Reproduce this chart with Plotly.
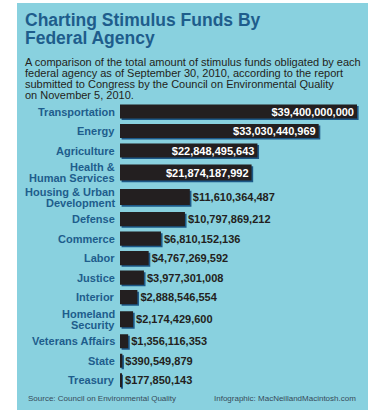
import plotly.graph_objects as go

# ---------------- data ----------------
agencies = ["Transportation", "Energy", "Agriculture", "Health &<br>Human Services",
            "Housing & Urban<br>Development", "Defense", "Commerce", "Labor", "Justice",
            "Interior", "Homeland<br>Security", "Veterans Affairs", "State", "Treasury"]
funds = [39400000000, 33030440969, 22848495643, 21874187992, 11610364487, 10797869212,
         6810152136, 4767269592, 3977301008, 2888546554, 2174429600, 1356116353,
         390549879, 177850143]
value_labels = ["$" + f"{v:,}" for v in funds]

title_lines = ["Charting Stimulus Funds By", "Federal Agency"]
subtitle_lines = ["A comparison of the total amount of stimulus funds obligated by each",
                  "federal agency as of September 30, 2010, according to the report",
                  "submitted to Congress by the Council on Environmental Quality",
                  "on November 5, 2010."]
source_text = "Source: Council on Environmental Quality"
credit_text = "Infographic: MacNeillandMacintosh.com"

# ---------------- styling ----------------
W, H = 380, 410
FONT = "Liberation Sans, Arial, Helvetica, sans-serif"
BG = "rgb(137,209,223)"
BLUE = "rgb(30,93,140)"
BAR = "rgb(35,31,32)"
SHADOW = "rgb(28,88,135)"
UNIT = 19.5          # px per row unit
FIRST_ROW_PX = 111.5
EXTRA = 0.13

extra = [a.count("<br>") for a in agencies]
pos = [0.0]
for i in range(1, len(agencies)):
    pos.append(pos[-1] + 1 + EXTRA * (extra[i - 1] + extra[i]))
widths = [0.72 + 0.1 * e for e in extra]

pad = 0.6
top_px = FIRST_ROW_PX - pad * UNIT
bot_px = top_px + (pos[-1] + 2 * pad) * UNIT
ydom = [1 - bot_px / H, 1 - top_px / H]
yr = [pos[-1] + pad, -pad]

x0_px, x1_px = 120, 368
xmax = max(funds) * (x1_px - x0_px) / 237.0
xdom = [x0_px / W, x1_px / W]

sh_px = 1.6
dx = xmax * sh_px / (x1_px - x0_px)
dy = sh_px / UNIT

positions = ["inside" if v >= 0.5 * max(funds) else "outside" for v in funds]

fig = go.Figure()
# shadow bars (base axes, shifted)
fig.add_trace(go.Bar(x=funds, y=pos, width=widths, orientation="h",
                     marker=dict(color=SHADOW, line=dict(width=0)),
                     xaxis="x", yaxis="y", hoverinfo="skip", showlegend=False))
# main bars
fig.add_trace(go.Bar(x=funds, y=pos, width=widths, orientation="h",
                     marker=dict(color=BAR, line=dict(width=0)),
                     text=value_labels, textposition=positions,
                     insidetextanchor="end", constraintext="none",
                     insidetextfont=dict(family=FONT, size=11, color="white", weight="bold"),
                     outsidetextfont=dict(family=FONT, size=11, color=BAR, weight="bold"),
                     cliponaxis=False,
                     xaxis="x2", yaxis="y2", showlegend=False))

ann = []
for a, p in zip(agencies, pos):
    lines = a.split("<br>")
    n = len(lines)
    for j, ln in enumerate(lines):
        ann.append(dict(text=ln, xref="paper", yref="y2", x=117 / W, y=p,
                        xanchor="right", yanchor="middle",
                        yshift=((n - 1) / 2 - j) * 11, showarrow=False,
                        font=dict(family=FONT, size=11, color=BLUE, weight="bold")))

for j, ln in enumerate(title_lines):
    ann.append(dict(text=ln, xref="paper", yref="paper", x=23 / W, y=1 - (20 + 18.5 * j) / H,
                    xanchor="left", yanchor="middle", showarrow=False,
                    font=dict(family=FONT, size=17.5, color=BLUE, weight="bold")))
for j, ln in enumerate(subtitle_lines):
    ann.append(dict(text=ln, xref="paper", yref="paper", x=23 / W, y=1 - (62 + 11 * j) / H,
                    xanchor="left", yanchor="middle", showarrow=False,
                    font=dict(family=FONT, size=11, color=BAR)))
ann.append(dict(text=source_text, xref="paper", yref="paper", x=26 / W, y=1 - 398 / H,
                xanchor="left", yanchor="middle", showarrow=False,
                font=dict(family=FONT, size=8, color="rgb(55,75,90)")))
ann.append(dict(text=credit_text, xref="paper", yref="paper", x=358 / W, y=1 - 398 / H,
                xanchor="right", yanchor="middle", showarrow=False,
                font=dict(family=FONT, size=8, color="rgb(55,75,90)")))

fig.update_layout(
    width=W, height=H, margin=dict(l=0, r=0, t=0, b=0),
    paper_bgcolor="white", plot_bgcolor="rgba(0,0,0,0)",
    barmode="overlay", showlegend=False,
    font=dict(family=FONT),
    xaxis=dict(domain=xdom, range=[-dx, xmax - dx], visible=False, fixedrange=True),
    yaxis=dict(domain=ydom, range=[yr[0] - dy, yr[1] - dy], visible=False, fixedrange=True),
    xaxis2=dict(overlaying="x", range=[0, xmax], visible=False, fixedrange=True),
    yaxis2=dict(overlaying="y", range=yr, visible=False, fixedrange=True),
    shapes=[dict(type="rect", xref="paper", yref="paper", x0=17 / W, x1=368 / W,
                 y0=0, y1=1 - 3 / H, fillcolor=BG, line=dict(width=0), layer="below")],
    annotations=ann,
)

fig.write_html("out.html", config={"displayModeBar": False},
               post_script="document.body.style.margin='0';document.body.style.overflow='hidden';")
